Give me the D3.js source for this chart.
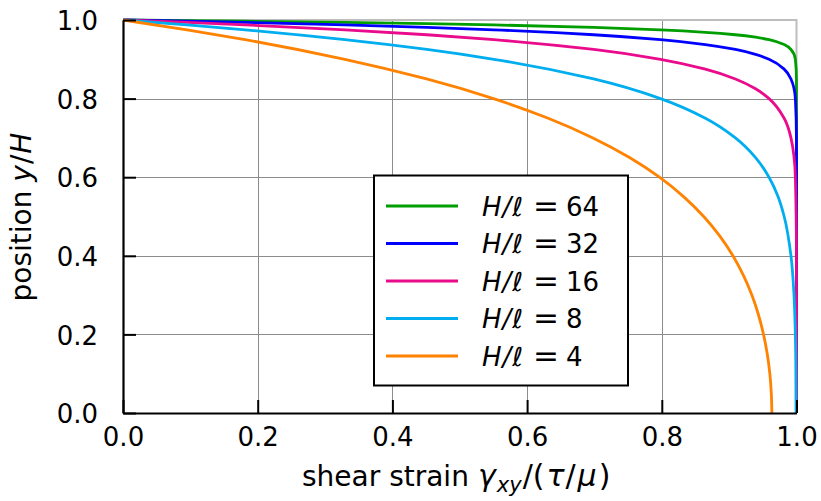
<!DOCTYPE html>
<html>
<head>
<meta charset="utf-8">
<script src="https://cdn.jsdelivr.net/npm/d3@7"></script>
<style>
  html, body { margin: 0; padding: 0; background: #fff; }
  svg { display: block; font-family: "DejaVu Sans", sans-serif; }
</style>
</head>
<body>
<svg id="chart" width="821" height="501"></svg>
<script>
// Shear strain profiles across the layer for several H/ℓ ratios.
// Each series: position y/H (ascending) and the normalised shear strain there.
const seriesNames = ["H/ℓ = 64", "H/ℓ = 32", "H/ℓ = 16", "H/ℓ = 8", "H/ℓ = 4"];
const ratios = [64, 32, 16, 8, 4];
const colors = ["#009e00", "#0000ff", "#ea0a8c", "#00aeef", "#ff8200"];

const pos64 = [0, 0.8, 0.85, 0.9, 0.925, 0.9375, 0.95, 0.95625, 0.9625, 0.96875, 0.975, 0.98125, 0.9875, 0.990625, 0.99375, 0.996875, 0.9984375, 1];
const strain64 = [1.0, 1.0, 0.99993, 0.99834, 0.99177, 0.98168, 0.95924, 0.93919, 0.90928, 0.86466, 0.7981, 0.69881, 0.55067, 0.45119, 0.32968, 0.18127, 0.09516, 0];

const pos32 = [0, 0.6, 0.7, 0.8, 0.85, 0.875, 0.9, 0.9125, 0.925, 0.9375, 0.95, 0.9625, 0.975, 0.98125, 0.9875, 0.99375, 0.996875, 1];
const strain32 = [1.0, 1.0, 0.99993, 0.99834, 0.99177, 0.98168, 0.95924, 0.93919, 0.90928, 0.86466, 0.7981, 0.69881, 0.55067, 0.45119, 0.32968, 0.18127, 0.09516, 0];

const pos16 = [0, 0.2, 0.4, 0.6, 0.7, 0.75, 0.8, 0.825, 0.85, 0.875, 0.9, 0.925, 0.95, 0.9625, 0.975, 0.9875, 0.99375, 1];
const strain16 = [1.0, 1.0, 0.99993, 0.99834, 0.99177, 0.98168, 0.95924, 0.93919, 0.90928, 0.86466, 0.7981, 0.69881, 0.55067, 0.45119, 0.32968, 0.18127, 0.09516, 0];

const pos8 = [0, 0.1, 0.2, 0.3, 0.4, 0.5, 0.55, 0.6, 0.65, 0.7, 0.75, 0.8, 0.85, 0.9, 0.925, 0.95, 0.975, 0.9875, 1];
const strain8 = [0.9993, 0.9991, 0.9983, 0.9963, 0.9918, 0.9817, 0.9727, 0.9592, 0.9392, 0.9093, 0.8647, 0.7981, 0.6988, 0.5507, 0.4512, 0.3294, 0.1815, 0.0953, 0];

const pos4 = [0, 0.05, 0.1, 0.15, 0.2, 0.25, 0.3, 0.35, 0.4, 0.45, 0.5, 0.55, 0.6, 0.65, 0.7, 0.75, 0.8, 0.85, 0.9, 0.95, 0.975, 1];
const strain4 = [0.9634, 0.9626, 0.9604, 0.9566, 0.951, 0.9435, 0.9337, 0.9212, 0.9056, 0.8862, 0.8622, 0.8327, 0.7965, 0.7521, 0.6978, 0.6313, 0.5501, 0.4508, 0.3294, 0.1811, 0.0951, 0];

const xTicks = [0, 0.2, 0.4, 0.6, 0.8, 1.0];
const yTicks = [0, 0.2, 0.4, 0.6, 0.8, 1.0];

const positions = [pos64, pos32, pos16, pos8, pos4];
const strains = [strain64, strain32, strain16, strain8, strain4];

const svg = d3.select("#chart");
const plot = { left: 123, right: 796.5, top: 20, bottom: 413 };

const x = d3.scaleLinear().domain([0, 1]).range([plot.left, plot.right]);
const y = d3.scaleLinear().domain([0, 1]).range([plot.bottom, plot.top]);

// grid
const grid = svg.append("g").attr("stroke", "#8c8c8c").attr("stroke-width", 1);
grid.selectAll("line.vx").data(xTicks.slice(1, -1)).join("line")
  .attr("x1", d => Math.round(x(d)) + 0.5).attr("x2", d => Math.round(x(d)) + 0.5)
  .attr("y1", plot.top).attr("y2", plot.bottom);
grid.selectAll("line.hy").data(yTicks.slice(1, -1)).join("line")
  .attr("y1", d => Math.round(y(d)) + 0.5).attr("y2", d => Math.round(y(d)) + 0.5)
  .attr("x1", plot.left).attr("x2", plot.right);

// light frame on top and right
svg.append("path")
  .attr("d", `M${plot.left},${plot.top}H${plot.right}V${plot.bottom}`)
  .attr("fill", "none").attr("stroke", "#bdbdbd").attr("stroke-width", 2);

// curves
const line = d3.line()
  .x(d => x(d[1]))
  .y(d => y(d[0]))
  .curve(d3.curveMonotoneY);

svg.append("g").selectAll("path").data(ratios).join("path")
  .attr("d", (r, i) => line(d3.zip(positions[i], strains[i])))
  .attr("fill", "none")
  .attr("stroke", (r, i) => colors[i])
  .attr("stroke-width", 2.8)
  .attr("stroke-linejoin", "round");

// axes
const fontSize = 26;
const titleSize = 28;
const xAxis = d3.axisBottom(x).tickValues(xTicks).tickFormat(d3.format(".1f"))
  .tickSizeInner(-13).tickSizeOuter(0).tickPadding(15);
const yAxis = d3.axisLeft(y).tickValues(yTicks).tickFormat(d3.format(".1f"))
  .tickSizeInner(-13).tickSizeOuter(0).tickPadding(25);

const gx = svg.append("g").attr("transform", `translate(0,${plot.bottom})`).call(xAxis);
const gy = svg.append("g").attr("transform", `translate(${plot.left},0)`).call(yAxis);
[gx, gy].forEach(g => {
  g.attr("font-family", null).attr("font-size", null);
  g.select(".domain").attr("stroke", "#000").attr("stroke-width", 2.2);
  g.selectAll(".tick line").attr("stroke", "#000").attr("stroke-width", 2);
  g.selectAll(".tick text").attr("fill", "#000").style("font-size", fontSize + "px");
});
gy.selectAll(".tick text").attr("dy", "0.37em");

// axis titles
const xt = svg.append("text")
  .attr("x", 302).attr("y", 486)
  .style("font-size", titleSize + "px");
xt.append("tspan").text("shear strain");
const xm = { size: "30px", sub: "21px" };
xt.append("tspan").attr("x", 478).attr("font-style", "italic").style("font-size", xm.size).text("γ");
xt.append("tspan").attr("font-style", "italic").style("font-size", xm.sub).attr("dy", 6).attr("dx", 1).text("xy");
xt.append("tspan").attr("dy", -6).attr("dx", 1).style("font-size", xm.size).text("/(");
xt.append("tspan").attr("font-style", "italic").attr("dx", 2).style("font-size", xm.size).text("τ");
xt.append("tspan").attr("dx", 1).style("font-size", xm.size).text("/");
xt.append("tspan").attr("font-style", "italic").attr("dx", 2).style("font-size", xm.size).text("μ");
xt.append("tspan").attr("dx", 2).style("font-size", xm.size).text(")");

const yt = svg.append("text")
  .attr("transform", "translate(31,217) rotate(-90)")
  .attr("text-anchor", "middle")
  .style("font-size", titleSize + "px");
yt.append("tspan").text("position ");
yt.append("tspan").attr("font-style", "italic").text("y");
yt.append("tspan").attr("dx", 1).text("/");
yt.append("tspan").attr("font-style", "italic").attr("dx", 1).text("H");

// legend
const legend = svg.append("g");
legend.append("rect")
  .attr("x", 374).attr("y", 175.5).attr("width", 254).attr("height", 210)
  .attr("fill", "#fff").attr("stroke", "#000").attr("stroke-width", 2);

const rowY = d3.scalePoint().domain(seriesNames).range([206, 356]);
const rows = legend.selectAll("g.row").data(seriesNames).join("g")
  .attr("transform", d => `translate(0,${rowY(d)})`);
rows.append("line")
  .attr("x1", 386).attr("x2", 458).attr("y1", 0).attr("y2", 0)
  .attr("stroke", (d, i) => colors[i]).attr("stroke-width", 3);
const lt = rows.append("text")
  .attr("x", 482).attr("y", 0).attr("dy", "0.37em")
  .style("font-size", fontSize + "px");
lt.append("tspan").attr("font-style", "italic").text("H");
lt.append("tspan").attr("font-style", "italic").attr("dx", 1).text("/");
lt.append("tspan").attr("font-style", "italic").attr("dx", 1).text("ℓ");
lt.append("tspan").attr("x", 533).style("font-size", "31px").text("=");
lt.append("tspan").attr("x", 566).text((d, i) => ratios[i]);
</script>
</body>
</html>
